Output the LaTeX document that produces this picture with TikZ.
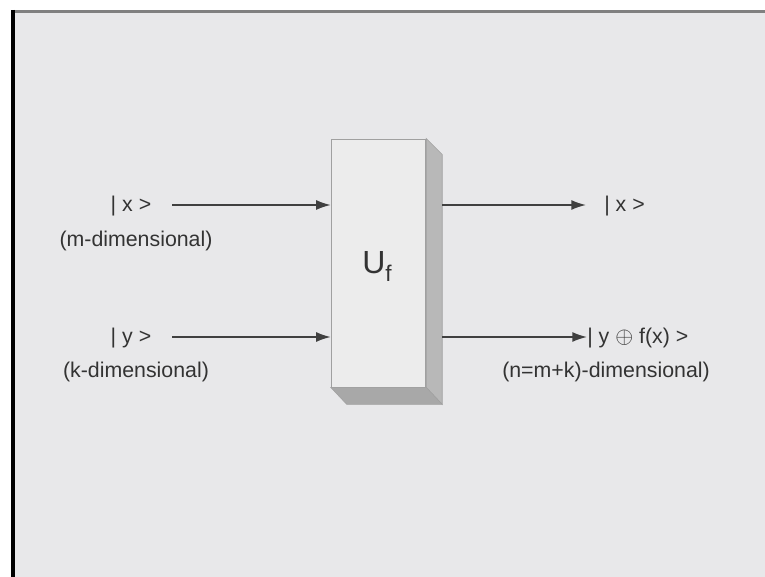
\documentclass[tikz,border=0pt]{standalone}
\usepackage{fontspec}
\setmainfont{Liberation Sans}
\usetikzlibrary{arrows.meta,positioning}
\definecolor{slidebg}{HTML}{E8E8EA}
\definecolor{txtgray}{HTML}{333333}
\definecolor{linegray}{HTML}{404040}
\definecolor{facefront}{HTML}{ECECEC}
\definecolor{faceside}{HTML}{B8B8B8}
\definecolor{facebottom}{HTML}{A8A8A8}
\definecolor{edgegray}{HTML}{A0A0A0}

\begin{document}
\begin{tikzpicture}[x=0.75pt, y=-0.75pt,
  lbl/.style={text=txtgray, inner sep=0pt, font=\fontsize{16pt}{18pt}\selectfont},
  gate/.style={draw=edgegray, fill=facefront, line width=0.6pt, minimum width=71pt, minimum height=186pt, inner sep=0pt},
  arr/.style={-{Latex[length=11pt, width=7.5pt]}, line width=1.2pt, color=linegray}
]
\useasboundingbox (0,0) rectangle (765,577);
\fill[white] (0,0) rectangle (765,577);
\fill[slidebg] (11,10) rectangle (765,577);
\draw[gray, line width=2.4pt] (11,11.5) -- (765,11.5);
\draw[black, line width=3pt] (13,10) -- (13,577);

\node[gate] (uf) at (378.5,263) {};
\fill[faceside, draw=edgegray, line width=0.4pt] (uf.north east) -- ++(16,16) -- ([shift={(16,17)}]uf.south east) -- (uf.south east) -- cycle;
\fill[facebottom, draw=edgegray, line width=0.4pt] (uf.south west) -- ++(16,17) -- ([shift={(16,17)}]uf.south east) -- (uf.south east) -- cycle;
\node[lbl, font=\fontsize{24pt}{26pt}\selectfont] (ulbl) at (377,266) {U\raisebox{-6pt}{\fontsize{17pt}{18pt}\selectfont f}};

\node[lbl] (xin) at (131,206) {| x >};
\node[lbl] (xdim) at (136,241) {(m-dimensional)};
\node[lbl] (yin) at (131,338) {| y >};
\node[lbl] (ydim) at (136,372) {(k-dimensional)};

\coordinate (xsrc) at (172,205);
\coordinate (ysrc) at (172,337);
\draw[arr] (xsrc) -- (uf.west |- xsrc);
\draw[arr] (ysrc) -- (uf.west |- ysrc);

\node[lbl, anchor=west] (xout) at (604,206) {| x >};
\node[lbl, anchor=west] (yout) at (587,338) {| y {\fontsize{19pt}{19pt}\selectfont$\oplus$} f(x) >};
\node[lbl] (ndim) at (606,372) {(n=m+k)-dimensional)};

\path (uf.east |- xsrc) ++(16,0) coordinate (xo);
\path (uf.east |- ysrc) ++(16,0) coordinate (yo);
\coordinate (xend) at (586,205);
\draw[arr] (xo) -- (xend);
\draw[arr] (yo) -- (yout.west |- yo);
\end{tikzpicture}
\end{document}
